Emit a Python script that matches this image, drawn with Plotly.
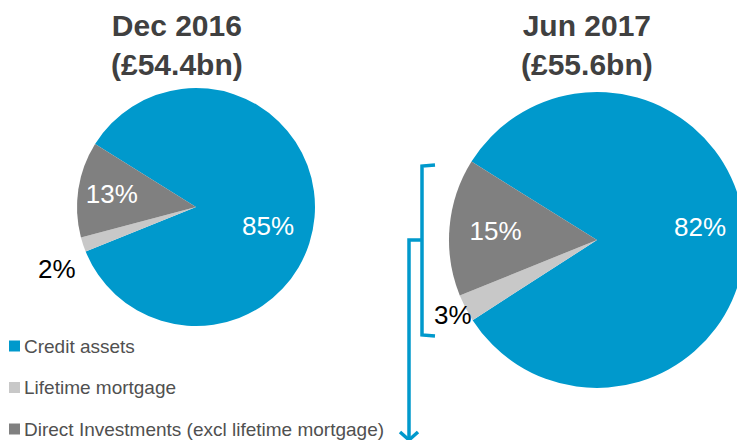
import plotly.graph_objects as go

W, H = 745, 440
# the page body has an 8px margin, so work in screen pixels and shift back
OFF = 8

labels = ["Credit assets", "Lifetime mortgage", "Direct Investments (excl lifetime mortgage)"]
colors = ["#0099CC", "#C8C8C8", "#808080"]

dec_2016 = [85, 2, 13]
jun_2017 = [82, 3, 15]

titles = ["Dec 2016<br>(£54.4bn)", "Jun 2017<br>(£55.6bn)"]

FONT = "Liberation Sans, Arial, sans-serif"


def px_x(v):
    return (v - OFF) / W


def px_y(v):
    return 1 - (v - OFF) / H


fig = go.Figure()

pie_style = dict(
    labels=labels,
    sort=False,
    direction="clockwise",
    rotation=-58,
    marker=dict(colors=colors, line=dict(width=0)),
    texttemplate="%{value}%",
    # only the direct-investment slice keeps plotly's own label, others placed below
    textposition=["none", "none", "inside"],
    insidetextorientation="horizontal",
    textfont=dict(family=FONT, size=26, color="white"),
    showlegend=False,
    automargin=False,
    hoverinfo="label+value",
)

# left pie: centre ~(196,207), r ~119
fig.add_trace(go.Pie(
    values=dec_2016,
    domain=dict(x=[px_x(77), px_x(315)], y=[px_y(326), px_y(88)]),
    **pie_style,
))
# right pie: centre ~(597,240), r ~148
fig.add_trace(go.Pie(
    values=jun_2017,
    domain=dict(x=[px_x(449), px_x(745)], y=[px_y(388), px_y(92)]),
    **pie_style,
))

# credit assets labels (white, inside) and lifetime mortgage labels (black, outside)
for vals, (cx, cy), (lx, ly) in zip([dec_2016, jun_2017],
                                    [(268, 226), (700, 227)],
                                    [(57, 269), (453, 315)]):
    fig.add_annotation(
        x=px_x(cx), y=px_y(cy), xref="paper", yref="paper",
        text=f"{vals[0]}%", showarrow=False, xanchor="center", yanchor="middle",
        font=dict(family=FONT, size=26, color="white"),
    )
    fig.add_annotation(
        x=px_x(lx), y=px_y(ly), xref="paper", yref="paper",
        text=f"{vals[1]}%", showarrow=False, xanchor="center", yanchor="middle",
        font=dict(family=FONT, size=26, color="black"),
    )

# titles pinned to the top edge so their boxes stay inside the figure
for txt, cx in zip(titles, [177, 587]):
    fig.add_annotation(
        x=px_x(cx), y=1, xref="paper", yref="paper",
        text=f"<b>{txt}</b>", showarrow=False, xanchor="center", yanchor="top",
        font=dict(family=FONT, size=30, color="#404040"),
        align="center", borderpad=0,
    )

# legend drawn by hand: small squares plus text
for i, (lab, col) in enumerate(zip(labels, colors)):
    ry = 346 + i * 41.5
    fig.add_shape(type="rect", xref="paper", yref="paper",
                  x0=px_x(9), x1=px_x(20), y0=px_y(ry + 5.5), y1=px_y(ry - 5.5),
                  fillcolor=col, line=dict(width=0))
    fig.add_annotation(
        x=px_x(22), y=px_y(ry), xref="paper", yref="paper",
        text=lab, showarrow=False, xanchor="left", yanchor="middle",
        font=dict(family=FONT, size=19, color="#505050"),
    )

# bracket round the non-credit slices on the right pie, with arrow down
blue = "#0099CC"
fig.add_shape(type="path", xref="paper", yref="paper",
              path=(f"M {px_x(435)},{px_y(165)} L {px_x(422)},{px_y(166)} "
                    f"L {px_x(422)},{px_y(335)} L {px_x(435)},{px_y(336)}"),
              line=dict(color=blue, width=3.5))
fig.add_shape(type="path", xref="paper", yref="paper",
              path=(f"M {px_x(422)},{px_y(240)} L {px_x(409)},{px_y(240)} "
                    f"L {px_x(409)},{px_y(448)}"),
              line=dict(color=blue, width=3.5))
fig.add_shape(type="path", xref="paper", yref="paper",
              path=(f"M {px_x(400)},{px_y(432)} L {px_x(409)},{px_y(440)} "
                    f"L {px_x(418)},{px_y(432)}"),
              line=dict(color=blue, width=3.5))

fig.update_layout(
    width=W, height=H,
    margin=dict(l=0, r=0, t=0, b=0),
    paper_bgcolor="white", plot_bgcolor="white",
    font=dict(family=FONT),
)

fig.write_html("out.html")
